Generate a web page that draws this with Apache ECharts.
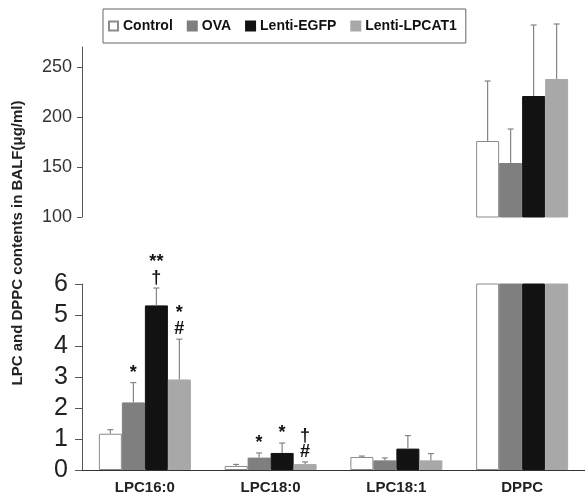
<!DOCTYPE html>
<html>
<head>
<meta charset="utf-8">
<script src="https://cdn.jsdelivr.net/npm/echarts@6/dist/echarts.min.js"></script>
<style>
  html, body { margin: 0; padding: 0; background: #fff; }
  #chart { width: 585px; height: 495px; }
</style>
</head>
<body>
<div id="chart"></div>
<script>
var categories = ['LPC16:0', 'LPC18:0', 'LPC18:1', 'DPPC'];
var groups     = ['Control', 'OVA', 'Lenti-EGFP', 'Lenti-LPCAT1'];

// means (DPPC in the broken upper panel)
var controlVals = [1.17, 0.13, 0.42, 176];
var ovaVals     = [2.18, 0.40, 0.31, 154];
var egfpVals    = [5.31, 0.55, 0.69, 221];
var lpcatVals   = [2.92, 0.19, 0.31, 238];

// error bars (SD)
var controlErr = [0.13, 0.05, 0.03, 60];
var ovaErr     = [0.64, 0.15, 0.08, 34];
var egfpErr    = [0.56, 0.32, 0.42, 71];
var lpcatErr   = [1.30, 0.07, 0.22, 55];

// significance marks
var controlMarks = ['', '', '', ''];
var ovaMarks     = ['*', '*', '', ''];
var egfpMarks    = ['**\n\u2020', '*', '', ''];
var lpcatMarks   = ['*\n#', '\u2020\n#', '', ''];

var upperTicks = [100, 150, 200, 250];
var lowerTicks = [0, 1, 2, 3, 4, 5, 6];

var colors  = ['#ffffff', '#7f7f7f', '#121212', '#a8a8a8'];
var borders = ['#8a8a8a', '#7f7f7f', '#121212', '#a8a8a8'];
var BAR_W   = 23;
var FONT    = 'Liberation Sans, Arial, sans-serif';

var myChart = echarts.init(document.getElementById('chart'));

var allVals  = [controlVals, ovaVals, egfpVals, lpcatVals];
var allErr   = [controlErr, ovaErr, egfpErr, lpcatErr];
var allMarks = [controlMarks, ovaMarks, egfpMarks, lpcatMarks];

function errSeries(gi, gridIdx) {
    var data = [];
    for (var c = 0; c < categories.length; c++) {
        var isDppc = c === 3;
        if ((gridIdx === 0) === isDppc) {
            data.push([c, allVals[gi][c], allErr[gi][c], allMarks[gi][c]]);
        }
    }
    return {
        type      : 'custom',
        xAxisIndex: gridIdx,
        yAxisIndex: gridIdx,
        clip      : false,
        z         : 5,
        silent    : true,
        data      : data,
        renderItem: function (params, api) {
            var off  = (gi - 1.5) * BAR_W;
            var base = api.coord([api.value(0), api.value(1)]);
            var top  = api.coord([api.value(0), api.value(1) + api.value(2)]);
            var cx   = base[0] + off;
            var mark = data[params.dataIndex][3];
            var kids = [
                {type: 'line', shape: {x1: cx, y1: base[1], x2: cx, y2: top[1]},
                    style: {stroke: '#858585', lineWidth: 1.2}},
                {type: 'line', shape: {x1: cx - 3, y1: top[1], x2: cx + 3, y2: top[1]},
                    style: {stroke: '#858585', lineWidth: 1.2}}
            ];
            if (mark) {
                kids.push({
                    type : 'text',
                    x    : cx,
                    y    : top[1] - 2,
                    style: {
                        text: mark, align: 'center', verticalAlign: 'bottom',
                        fontSize: 18, fontWeight: 'bold', lineHeight: 16,
                        fontFamily: FONT, fill: '#111'
                    }
                });
            }
            return {type: 'group', children: kids};
        }
    };
}

var series = [];
for (var g = 0; g < groups.length; g++) {
    // upper panel: DPPC only
    series.push({
        name      : groups[g],
        type      : 'bar',
        xAxisIndex: 0,
        yAxisIndex: 0,
        barWidth  : BAR_W,
        barGap    : '0%',
        clip      : true,
        itemStyle : {color: colors[g], borderColor: borders[g], borderWidth: 1},
        data      : allVals[g].map(function (v, i) { return i === 3 ? v : '-'; })
    });
    // lower panel: everything, DPPC clipped at 6
    series.push({
        name      : groups[g],
        type      : 'bar',
        xAxisIndex: 1,
        yAxisIndex: 1,
        barWidth  : BAR_W,
        barGap    : '0%',
        clip      : true,
        itemStyle : {color: colors[g], borderColor: borders[g], borderWidth: 1},
        data      : allVals[g].slice()
    });
}
for (var k = 0; k < groups.length; k++) {
    series.push(errSeries(k, 0));
    series.push(errSeries(k, 1));
}

var option = {
    animation: false,
    textStyle: {fontFamily: FONT},
    legend   : {
        data       : groups,
        left       : 103,
        top        : 9,
        padding    : [10, 9, 10, 5],
        itemWidth  : 9,
        itemHeight : 9,
        itemGap    : 14,
        icon       : 'rect',
        borderColor: '#666',
        borderWidth: 1,
        textStyle  : {fontSize: 14, fontWeight: 'bold', color: '#111', fontFamily: FONT}
    },
    grid: [
        {left: 82, top: 47, width: 504, height: 170},
        {left: 82, top: 284, width: 504, height: 188}
    ],
    xAxis: [
        {type: 'category', gridIndex: 0, data: categories, show: false},
        {
            type     : 'category',
            gridIndex: 1,
            data     : categories,
            axisLine : {lineStyle: {color: '#333', width: 1}},
            axisTick : {alignWithLabel: true, length: 6, lineStyle: {color: '#333'}},
            axisLabel: {fontSize: 15, fontWeight: 'bold', color: '#222', margin: 10, fontFamily: FONT}
        }
    ],
    yAxis: [
        {
            type     : 'value',
            gridIndex: 0,
            min      : upperTicks[0],
            max      : 270,
            interval : upperTicks[1] - upperTicks[0],
            splitLine: {show: false},
            axisLine : {show: true, lineStyle: {color: '#555'}},
            axisTick : {show: true, length: 5, customValues: upperTicks, lineStyle: {color: '#555'}},
            axisLabel: {fontSize: 18, color: '#333', margin: 10, customValues: upperTicks, fontFamily: FONT}
        },
        {
            type     : 'value',
            gridIndex: 1,
            min      : lowerTicks[0],
            max      : lowerTicks[lowerTicks.length - 1],
            interval : 1,
            splitLine: {show: false},
            axisLine : {show: true, lineStyle: {color: '#555'}},
            axisTick : {show: true, length: 7, lineStyle: {color: '#555'}},
            axisLabel: {fontSize: 25, color: '#222', margin: 14, fontFamily: FONT}
        }
    ],
    graphic: [{
        type    : 'text',
        x       : 18,
        y       : 243,
        rotation: Math.PI / 2,
        style   : {
            text: 'LPC and DPPC contents in BALF(\u03bcg/ml)',
            align: 'center', verticalAlign: 'middle',
            fontSize: 15, fontWeight: 'bold', fill: '#222', fontFamily: FONT
        }
    }],
    series: series
};

myChart.setOption(option);
</script>
</body>
</html>
